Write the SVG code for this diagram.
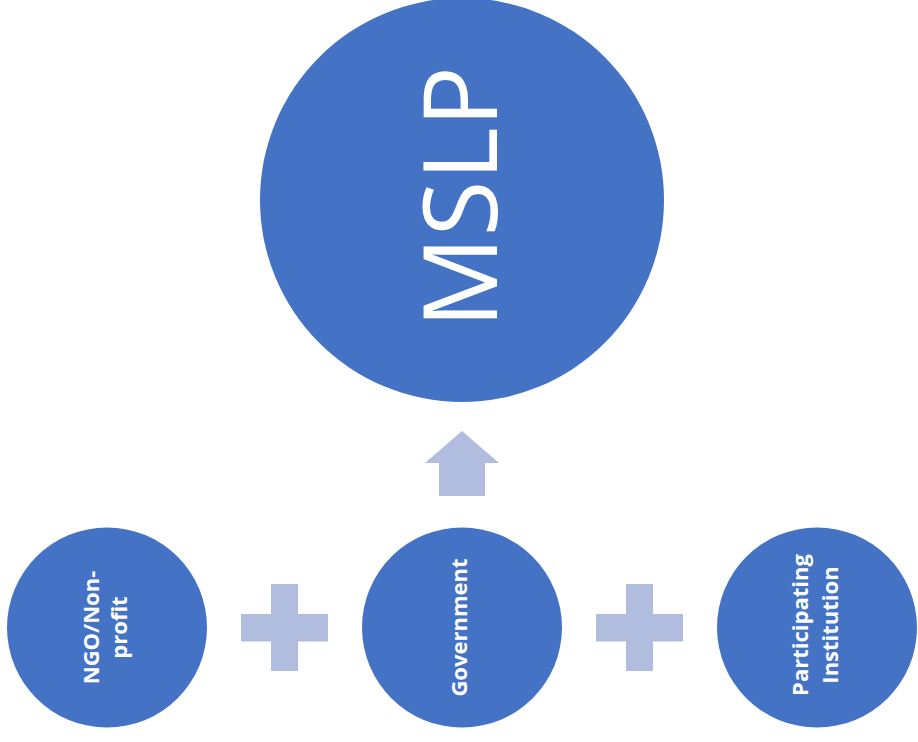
<svg xmlns="http://www.w3.org/2000/svg" width="918" height="742" viewBox="0 0 918 742">
<style>
.node{fill:#4472C4}
.lbl{fill:#FFFFFF;font-family:"Open Sans","Liberation Sans",sans-serif;font-weight:700;font-size:22px;text-anchor:middle}
.big{fill:#FFFFFF;font-family:"Open Sans","Liberation Sans",sans-serif;font-size:102px;text-anchor:middle}
.conn{fill:#B0BDDF}
</style>
<rect width="918" height="742" fill="#FFFFFF"/>
<g id="mslp">
<circle class="node" cx="462" cy="200" r="202"/>
<text class="big" transform="translate(497,197) rotate(-90)">MSLP</text>
</g>
<g id="ngo">
<circle class="node" cx="107" cy="627.5" r="100"/>
<text class="lbl" transform="translate(99,627.5) rotate(-90)"><tspan x="0" y="0">NGO/Non-</tspan><tspan x="0" y="28">profit</tspan></text>
</g>
<g id="government">
<circle class="node" cx="462" cy="627.5" r="100"/>
<text class="lbl" transform="translate(467,627.5) rotate(-90)">Government</text>
</g>
<g id="participating">
<circle class="node" cx="817" cy="627.5" r="100"/>
<text class="lbl" transform="translate(808,625) rotate(-90)"><tspan x="0" y="0">Participating</tspan><tspan x="0" y="30">Institution</tspan></text>
</g>
<g id="connectors">
<path class="conn" d="M271 584 H298 V614 H328 V641.5 H298 V671 H271 V641.5 H241 V614 H271 Z"/>
<path class="conn" d="M626 584 H653 V614 H683 V641.5 H653 V671 H626 V641.5 H596 V614 H626 Z"/>
<path class="conn" d="M462 431 L499 463 H485 V496 H439 V463 H425 Z"/>
</g>
</svg>
